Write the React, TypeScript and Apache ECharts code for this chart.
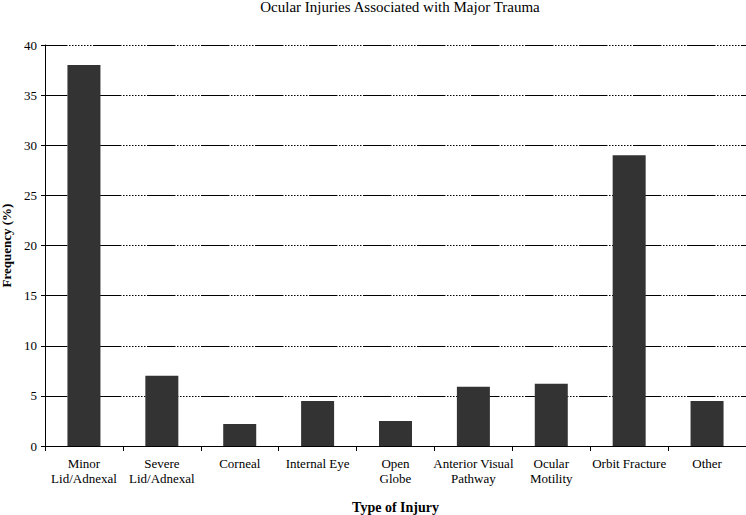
import React, { useEffect, useRef } from "react";
import * as echarts from "echarts";

const categories = [
  "Minor\nLid/Adnexal",
  "Severe\nLid/Adnexal",
  "Corneal",
  "Internal Eye",
  "Open\nGlobe",
  "Anterior Visual\nPathway",
  "Ocular\nMotility",
  "Orbit Fracture",
  "Other",
];
const frequency = [38, 7.0, 2.2, 4.5, 2.5, 5.9, 6.2, 29, 4.5];
const yMin = 0;
const yMax = 40;
const yStep = 5;

const FONT = "'Liberation Serif', 'DejaVu Serif', serif";

export default function App() {
  const ref = useRef<HTMLDivElement>(null);
  useEffect(() => {
    if (!ref.current) return;
    const chart = echarts.init(ref.current, null, { renderer: "svg" });
    chart.setOption({
      animation: false,
      backgroundColor: "#ffffff",
      title: {
        text: "Ocular Injuries Associated with Major Trauma",
        left: 395,
        top: -6,
        textAlign: "center",
        textStyle: { fontFamily: FONT, fontSize: 15, fontWeight: "normal", color: "#000" },
      },
      grid: { left: 45, right: 0, top: 45, bottom: 69, containLabel: false, outerBoundsMode: "none" },
      xAxis: {
        type: "category",
        data: categories,
        name: "Type of Injury",
        nameLocation: "middle",
        nameGap: 54,
        nameTextStyle: { fontFamily: FONT, fontSize: 14, fontWeight: "bold", color: "#000" },
        axisLine: { lineStyle: { color: "#000", width: 1 } },
        axisTick: { show: true, length: 5, lineStyle: { color: "#000" }, alignWithLabel: false },
        axisLabel: {
          interval: 0,
          margin: 10,
          fontFamily: FONT,
          fontSize: 13,
          lineHeight: 15,
          color: "#000",
        },
      },
      yAxis: [
        {
          type: "value",
          min: yMin,
          max: yMax,
          interval: yStep,
          name: "Frequency (%)",
          nameLocation: "middle",
          nameGap: 30,
          nameTextStyle: { fontFamily: FONT, fontSize: 13, fontWeight: "bold", color: "#000" },
          axisLine: { show: true, lineStyle: { color: "#000", width: 1 } },
          axisTick: { show: true, length: 4, lineStyle: { color: "#000" } },
          axisLabel: { margin: 8, fontFamily: FONT, fontSize: 13, color: "#000" },
          splitLine: {
            show: true,
            lineStyle: { color: "#000", width: 1, type: [1.5, 1.5] },
          },
          z: 1,
        },
        {
          type: "value",
          min: yMin,
          max: yMax,
          interval: yStep,
          position: "left",
          axisLine: { show: false },
          axisTick: { show: false },
          axisLabel: { show: false },
          splitLine: {
            show: true,
            lineStyle: { color: "#000", width: 1.2, type: [27, 27], dashOffset: 5 },
          },
          z: 1,
        },
      ],
      series: [
        {
          type: "bar",
          data: frequency,
          barWidth: 33,
          yAxisIndex: 0,
          itemStyle: { color: "#333333" },
          z: 3,
        },
      ],
    });
    return () => chart.dispose();
  }, []);
  return (
    <div
      ref={ref}
      style={{ position: "fixed", left: 0, top: 0, width: 746, height: 515, background: "#fff" }}
    />
  );
}
